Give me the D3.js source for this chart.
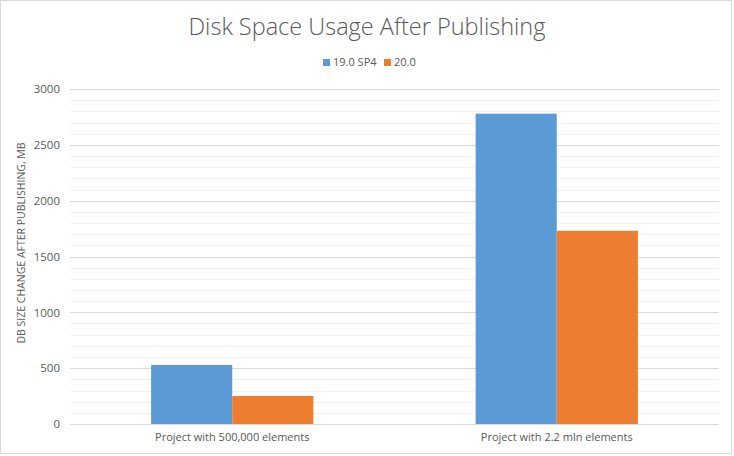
<!DOCTYPE html>
<html>
<head>
<meta charset="utf-8">
<script src="https://cdn.jsdelivr.net/npm/d3@7"></script>
<style>
  body { margin: 0; background: #fff; }
  text { font-family: "Open Sans", "Liberation Sans", sans-serif; fill: #595959; }
</style>
</head>
<body>
<script>
var categories = ["Project with 500,000 elements", "Project with 2.2 mln elements"]
var seriesNames = ["19.0 SP4", "20.0"]
var sp4Values = [529, 2779]
var v20Values = [251, 1730]
var yTicks = [0, 500, 1000, 1500, 2000, 2500, 3000]
var colors = ["#5b9bd5", "#ed7d31"]

var width = 734
var height = 456

var plotLeft = 70, plotRight = 719, plotTop = 89, plotBottom = 424

var svg = d3.select("body")
            .append("svg")
            .attr("width", width)
            .attr("height", height)

// chart border
svg.append("rect")
    .attr("x", 0.5)
    .attr("y", 0.5)
    .attr("width", width - 3)
    .attr("height", height - 3)
    .attr("fill", "white")
    .attr("stroke", "#d9d9d9")

var xScale = d3.scaleBand()
                .domain(categories)
                .range([plotLeft, plotRight])
                .paddingInner(0.5)
                .paddingOuter(0.25)

var subScale = d3.scaleBand()
                .domain(seriesNames)
                .range([0, xScale.bandwidth()])

var yScale = d3.scaleLinear()
                .domain([0, 3000])
                .range([plotBottom, plotTop])

// minor gridlines
svg.append("g")
    .selectAll("line")
    .data(d3.range(0, 3001, 100).filter(function(d){ return d % 500 != 0 }))
    .enter()
    .append("line")
    .attr("x1", plotLeft)
    .attr("x2", plotRight)
    .attr("y1", function(d){ return Math.round(yScale(d)) + 0.5 })
    .attr("y2", function(d){ return Math.round(yScale(d)) + 0.5 })
    .attr("stroke", "#f0f0f0")

// major gridlines
svg.append("g")
    .selectAll("line")
    .data(yTicks)
    .enter()
    .append("line")
    .attr("x1", plotLeft)
    .attr("x2", plotRight)
    .attr("y1", function(d){ return Math.round(yScale(d)) + 0.5 })
    .attr("y2", function(d){ return Math.round(yScale(d)) + 0.5 })
    .attr("stroke", "#d9d9d9")

var yAxis = d3.axisLeft()
              .scale(yScale)
              .tickValues(yTicks)
              .tickFormat(d3.format("d"))
              .tickSize(0)
              .tickPadding(10)

svg.append("g")
    .attr("transform", "translate(" + plotLeft + ",0)")
    .call(yAxis)
    .call(function(g){ g.select(".domain").remove() })
    .selectAll("text")
    .style("font-size", "11.5px")
    .attr("fill", "#595959")

var xAxis = d3.axisBottom()
              .scale(xScale)
              .tickSize(0)
              .tickPadding(9)

svg.append("g")
    .attr("transform", "translate(0," + plotBottom + ")")
    .call(xAxis)
    .call(function(g){ g.select(".domain").remove() })
    .selectAll("text")
    .style("font-size", "11px")
    .attr("fill", "#595959")

var rows = categories.map(function(c, i){
  return [
    {cat: c, series: seriesNames[0], value: sp4Values[i]},
    {cat: c, series: seriesNames[1], value: v20Values[i]}
  ]
})

svg.append("g")
    .selectAll("g")
    .data(rows)
    .enter()
    .append("g")
    .attr("transform", function(d, i){ return "translate(" + xScale(categories[i]) + ",0)" })
    .selectAll("rect")
    .data(function(d){ return d })
    .enter()
    .append("rect")
    .attr("x", function(d){ return subScale(d.series) })
    .attr("width", subScale.bandwidth())
    .attr("y", function(d){ return yScale(d.value) })
    .attr("height", function(d){ return yScale(0) - yScale(d.value) })
    .attr("fill", function(d, i){ return colors[i] })

// axis baseline
svg.append("line")
    .attr("x1", plotLeft)
    .attr("x2", plotRight)
    .attr("y1", Math.round(yScale(0)) + 0.5)
    .attr("y2", Math.round(yScale(0)) + 0.5)
    .attr("stroke", "#d9d9d9")

// title
svg.append("text")
    .attr("x", 367)
    .attr("y", 35)
    .attr("text-anchor", "middle")
    .style("font-size", "23.5px")
    .style("font-weight", "300")
    .text("Disk Space Usage After Publishing")

// y axis title
svg.append("text")
    .attr("transform", "translate(25,243) rotate(-90)")
    .attr("text-anchor", "middle")
    .style("font-size", "10.5px")
    .text("DB SIZE CHANGE AFTER PUBLISHING, MB")

// legend
var legend = svg.append("g")
    .attr("transform", "translate(323,62)")

var legendX = [0, 61]
seriesNames.forEach(function(name, i){
  legend.append("rect")
      .attr("x", legendX[i])
      .attr("y", -3)
      .attr("width", 7)
      .attr("height", 7)
      .attr("fill", colors[i])
  legend.append("text")
      .attr("x", legendX[i] + 10)
      .attr("y", 4)
      .style("font-size", "11px")
      .text(name)
})
</script>
</body>
</html>
